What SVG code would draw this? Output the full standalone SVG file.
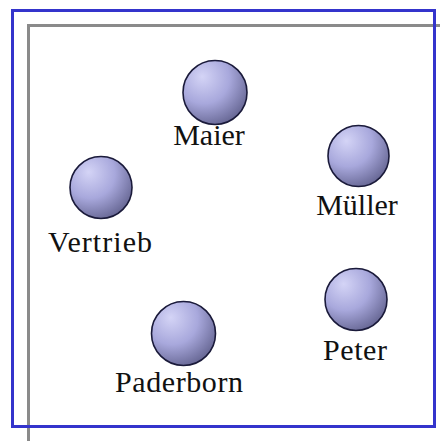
<svg xmlns="http://www.w3.org/2000/svg" width="440" height="441" viewBox="0 0 440 441">
<defs>
<radialGradient id="ball" cx="0.35" cy="0.3" r="0.8" fx="0.3" fy="0.25">
<stop offset="0" stop-color="#d4d4f6"/>
<stop offset="0.5" stop-color="#a8a8dc"/>
<stop offset="1" stop-color="#5e5e8a"/>
</radialGradient>
</defs>
<style>
.node{fill:url(#ball);stroke:#1a1a3a;stroke-width:1.6}
.lbl{font-family:"Liberation Serif","Times New Roman",serif;font-size:30px;fill:#111;text-anchor:middle}
</style>
<rect x="0" y="0" width="440" height="441" fill="#ffffff"/>
<g id="frames">
<rect x="28.5" y="25.5" width="430" height="430" fill="none" stroke="#8a8a8a" stroke-width="3"/>
<rect x="12.5" y="10.5" width="422" height="416" fill="none" stroke="#3434cc" stroke-width="3"/>
</g>
<g id="connectors"></g>
<g id="maier">
<circle class="node" cx="215" cy="92.5" r="32"/>
<text class="lbl" x="209" y="145">Maier</text>
</g>
<g id="vertrieb">
<circle class="node" cx="101" cy="187.5" r="31"/>
<text class="lbl" x="100" y="252" textLength="104" lengthAdjust="spacing">Vertrieb</text>
</g>
<g id="mueller">
<circle class="node" cx="358.5" cy="156" r="30.5"/>
<text class="lbl" x="357" y="215">Müller</text>
</g>
<g id="peter">
<circle class="node" cx="356" cy="299.5" r="31"/>
<text class="lbl" x="355" y="360" textLength="64" lengthAdjust="spacing">Peter</text>
</g>
<g id="paderborn">
<circle class="node" cx="183.5" cy="333.5" r="32"/>
<text class="lbl" x="179" y="392" textLength="128" lengthAdjust="spacing">Paderborn</text>
</g>
</svg>
